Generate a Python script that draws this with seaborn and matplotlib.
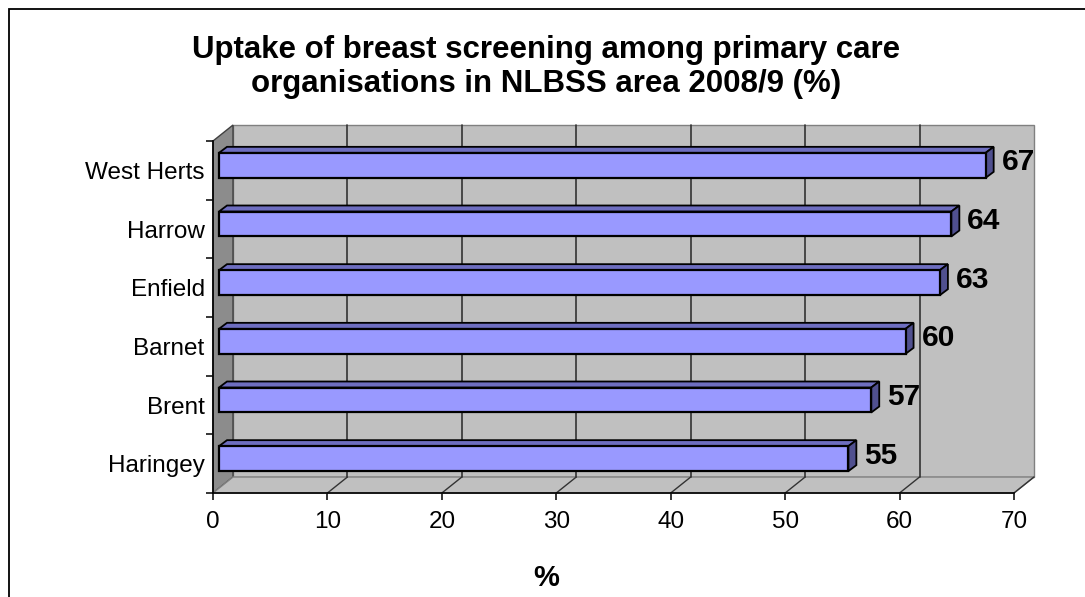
import pandas as pd
import matplotlib
matplotlib.use('Agg')
import matplotlib.pyplot as plt
import matplotlib.transforms as mtransforms
from matplotlib.patches import Polygon, Rectangle
import seaborn as sns

# Data
organisations = ['West Herts', 'Harrow', 'Enfield', 'Barnet', 'Brent', 'Haringey']
uptake = [67, 64, 63, 60, 57, 55]
x_ticks = [0, 10, 20, 30, 40, 50, 60, 70]
title = 'Uptake of breast screening among primary care\norganisations in NLBSS area 2008/9 (%)'
x_label = '%'

sns.set_style('white')
plt.rcParams['font.family'] = ['Liberation Sans', 'DejaVu Sans']
plt.rcParams['text.color'] = 'black'
plt.rcParams['xtick.color'] = 'black'
plt.rcParams['ytick.color'] = 'black'
plt.rcParams['axes.labelcolor'] = 'black'

W, H = 1085, 597
fig = plt.figure(figsize=(W / 100, H / 100), dpi=100)

# front plane of the excel-style 3D box (pixels)
left, right, top, bottom = 213, 1014, 141, 493
ax = fig.add_axes([left / W, 1 - bottom / H, (right - left) / W, (bottom - top) / H])
ax.patch.set_visible(False)

df = pd.DataFrame({'organisation': organisations, 'uptake': uptake})
sns.barplot(data=df, x='uptake', y='organisation', orient='h', width=0.426,
            color='#9999ff', saturation=1, edgecolor='black', linewidth=1.6,
            ax=ax, zorder=5)
bars = list(ax.patches)
ax.set_xlim(x_ticks[0], x_ticks[-1])
ax.set_ylim(len(organisations) - 0.5, -0.5)

# depth of the box and of the bars
wall_off = mtransforms.ScaledTranslation(0.20, 0.16, fig.dpi_scale_trans)
bar_off = mtransforms.ScaledTranslation(0.06, 0.05, fig.dpi_scale_trans)
dxa = 20 / (right - left)
dya = 16 / (bottom - top)
px_per_x = (right - left) / (x_ticks[-1] - x_ticks[0])
px_per_y = (bottom - top) / len(organisations)

# walls and floor
ax.add_patch(Rectangle((0, 0), 1, 1, transform=ax.transAxes + wall_off,
                       fc='#c0c0c0', ec='#808080', lw=1, zorder=0, clip_on=False))
ax.add_patch(Polygon([(0, 0), (0, 1), (dxa, 1 + dya), (dxa, dya)], transform=ax.transAxes,
                     fc='#8c8c8c', ec='#404040', lw=1, zorder=1, clip_on=False))
ax.add_patch(Polygon([(0, 0), (1, 0), (1 + dxa, dya), (dxa, dya)], transform=ax.transAxes,
                     fc='#c0c0c0', ec='#808080', lw=1, zorder=1, clip_on=False))

blend = mtransforms.blended_transform_factory(ax.transData, ax.transAxes)
for t in x_ticks[1:-1]:
    ax.plot([t, t], [0, 1], transform=blend + wall_off, color='#333333', lw=1.2,
            zorder=2, clip_on=False)
for t in x_ticks[1:]:
    ax.plot([t, t + 20 / px_per_x], [0, dya], transform=blend, color='#333333', lw=1.0,
            zorder=2, clip_on=False)

# 3D bars: front face from seaborn, plus top and side faces
dxb = 8 / px_per_x
dyb = 6 / px_per_y
lab_off = mtransforms.ScaledTranslation(0.22, 0.08, fig.dpi_scale_trans)
for p, v in zip(bars, uptake):
    p.set_transform(ax.transData + bar_off)
    x0, x1 = p.get_x(), p.get_x() + p.get_width()
    y0 = min(p.get_y(), p.get_y() + p.get_height())
    y1 = max(p.get_y(), p.get_y() + p.get_height())
    ax.add_patch(Polygon([(x0, y0), (x1, y0), (x1 + dxb, y0 - dyb), (x0 + dxb, y0 - dyb)],
                         transform=ax.transData + bar_off, fc='#6e6ec0', ec='black',
                         lw=1.3, zorder=4, clip_on=False))
    ax.add_patch(Polygon([(x1, y0), (x1, y1), (x1 + dxb, y1 - dyb), (x1 + dxb, y0 - dyb)],
                         transform=ax.transData + bar_off, fc='#50508f', ec='black',
                         lw=1.3, zorder=4, clip_on=False))
    ax.text(x1, (y0 + y1) / 2, str(v), transform=ax.transData + lab_off,
            ha='left', va='center', fontsize=21.5, fontweight='bold', zorder=6)

# axes lines and ticks
for s in ['top', 'right']:
    ax.spines[s].set_visible(False)
for s in ['left', 'bottom']:
    ax.spines[s].set_color('black')
    ax.spines[s].set_linewidth(1.2)
    ax.spines[s].set_zorder(3)

ax.set_xticks(x_ticks)
ax.set_xticklabels([str(t) for t in x_ticks])
ax.tick_params(axis='x', direction='out', length=5, width=1.1, color='black',
               labelsize=17.5, pad=8, bottom=True)
ax.set_yticks(range(len(organisations)))
ax.set_yticklabels(organisations)
ax.set_yticks([i - 0.5 for i in range(len(organisations) + 1)], minor=True)
ax.tick_params(axis='y', which='major', length=0, labelsize=17.5, pad=6)
ax.tick_params(axis='y', which='minor', direction='out', length=5, width=1.1,
               color='black', left=True)
ax.set_xlabel('')
ax.set_ylabel('')

# titles and frame
fig.text(0.503, 1 - 67 / H, title, ha='center', va='center', fontsize=22.5,
         fontweight='bold', linespacing=1.2)
fig.text(546 / W, 1 - 578 / H, x_label, ha='center', va='center', fontsize=21,
         fontweight='bold')
fig.add_artist(Rectangle((9 / W, -0.1), 1.2, 1 - 9 / H + 0.1, transform=fig.transFigure,
                         fill=False, ec='black', lw=1.3))

fig.savefig('out.png', dpi=100)
